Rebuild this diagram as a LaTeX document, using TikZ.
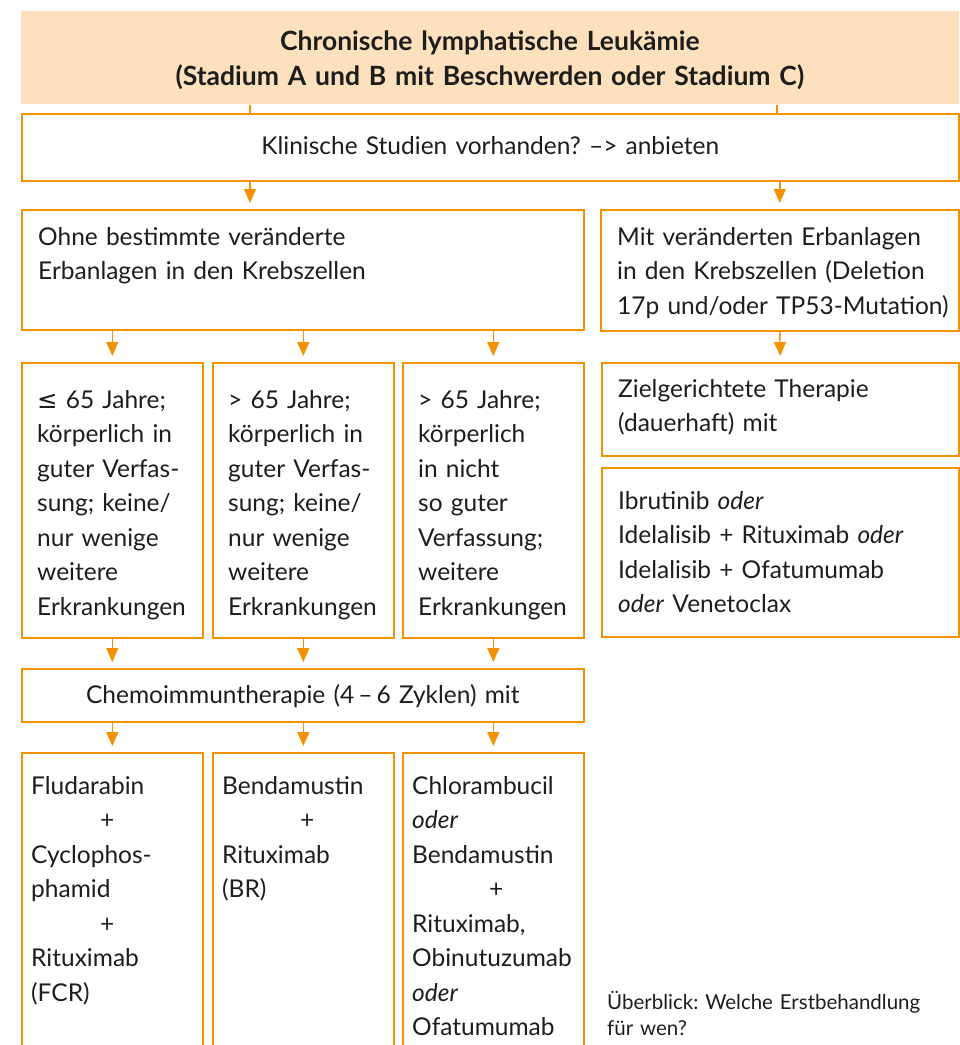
\documentclass[tikz,border=0pt]{standalone}
\usepackage{fontspec}
\setmainfont{Lato}
\newfontfamily\symfont{DejaVu Sans}
\usepackage{tikz}
\usetikzlibrary{arrows.meta,positioning}
\definecolor{ora}{HTML}{F39200}
\definecolor{peach}{HTML}{FDE0BE}
\definecolor{ink}{HTML}{1D1D1B}
\newcommand{\plusln}[1]{\hspace*{#1}+}
\frenchspacing

\begin{document}
\begin{tikzpicture}[x=1pt,y=-1pt,
  box/.style={draw=ora,line width=1.6pt,anchor=north west,inner sep=0pt},
  txt/.style={anchor=base west,align=left,inner sep=0pt,text=ink,text width=600pt,
              font=\fontsize{24.5}{34.5}\selectfont},
  arr/.style={-{Triangle[width=12pt,length=14pt]},draw=ora,line width=1.4pt,
              shorten >=6pt},
  link/.style={draw=ora,line width=1.4pt}
]
\useasboundingbox (0,0) rectangle (960,1045);
\clip (0,0) rectangle (960,1045);

\node[box,draw=none,fill=peach,minimum width=938pt,minimum height=93pt] (head) at (20,10) {};
\node[box,minimum width=937pt,minimum height=67pt] (stud) at (21,113) {};
\node[box,minimum width=562pt,minimum height=120pt] (ohne) at (21,209) {};
\node[box,minimum width=358pt,minimum height=121pt] (mit) at (600,209) {};
\node[box,minimum width=181pt,minimum height=275pt] (age1) at (21,362) {};
\node[box,minimum width=181pt,minimum height=275pt] (age2) at (212,362) {};
\node[box,minimum width=181pt,minimum height=275pt] (age3) at (402,362) {};
\node[box,minimum width=357pt,minimum height=93pt] (ziel) at (601,362) {};
\node[box,minimum width=357pt,minimum height=169pt] (wirk) at (601,467) {};
\node[box,minimum width=562pt,minimum height=53pt] (chemo) at (21,668) {};
\node[box,minimum width=181pt,minimum height=330pt] (med1) at (21,752) {};
\node[box,minimum width=181pt,minimum height=330pt] (med2) at (212,752) {};
\node[box,minimum width=181pt,minimum height=330pt] (med3) at (402,752) {};

\node[txt,anchor=base,align=center,text width=900pt,
      font=\fontsize{26.5}{35.5}\selectfont\bfseries] (headtxt)
  at ([shift={(0,40)}]head.north)
  {Chronische lymphatische Leukämie\\(Stadium A und B mit Beschwerden oder Stadium C)};
\node[txt,anchor=base,align=center,text width=900pt] (studtxt) at ([shift={(0,41)}]stud.north)
  {Klinische Studien vorhanden? –> anbieten};
\node[txt] (ohnetxt) at ([shift={(17,36)}]ohne.north west)
  {Ohne bestimmte veränderte\\Erbanlagen in den Krebszellen};
\node[txt] (mittxt) at ([shift={(17,36)}]mit.north west)
  {Mit veränderten Erbanlagen\\in den Krebszellen (Deletion\\17p und/oder TP53-Mutation)};
\node[txt] (age1txt) at ([shift={(16,46)}]age1.north west)
  {{\symfont ≤} 65 Jahre;\\körperlich in\\guter Verfas-\\sung; keine/\\nur wenige\\weitere\\Erkrankungen};
\node[txt] (age2txt) at ([shift={(16,46)}]age2.north west)
  {> 65 Jahre;\\körperlich in\\guter Verfas-\\sung; keine/\\nur wenige\\weitere\\Erkrankungen};
\node[txt] (age3txt) at ([shift={(16,46)}]age3.north west)
  {> 65 Jahre;\\körperlich\\in nicht\\so guter\\Verfassung;\\weitere\\Erkrankungen};
\node[txt] (zieltxt) at ([shift={(17,35)}]ziel.north west)
  {Zielgerichtete Therapie\\(dauerhaft) mit};
\node[txt] (wirktxt) at ([shift={(17,42)}]wirk.north west)
  {Ibrutinib \emph{oder}\\Idelalisib + Rituximab \emph{oder}\\Idelalisib + Ofatumumab\\\emph{oder} Venetoclax};
\node[txt,anchor=base,align=center,text width=560pt] (chemotxt) at ([shift={(0,35)}]chemo.north)
  {Chemoimmuntherapie (4\,–\,6 Zyklen) mit};
\node[txt] (med1txt) at ([shift={(10,42)}]med1.north west)
  {Fludarabin\\\plusln{69pt}\\Cyclophos-\\phamid\\\plusln{69pt}\\Rituximab\\(FCR)};
\node[txt] (med2txt) at ([shift={(10,42)}]med2.north west)
  {Bendamustin\\\plusln{78pt}\\Rituximab\\(BR)};
\node[txt] (med3txt) at ([shift={(10,42)}]med3.north west)
  {Chlorambucil\\\emph{oder}\\Bendamustin\\\plusln{77pt}\\Rituximab,\\Obinutuzumab\\\emph{oder}\\Ofatumumab};
\node[txt,font=\fontsize{20.5}{26}\selectfont] (caption) at (607,1009)
  {Überblick: Welche Erstbehandlung\\für wen?};

\draw[link] ([xshift=230pt]head.south west) -- ([xshift=229pt]stud.north west);
\draw[link] ([xshift=757pt]head.south west) -- ([xshift=756pt]stud.north west);
\draw[arr] ([xshift=229pt]stud.south west) -- ([xshift=229pt]ohne.north west);
\draw[arr] (stud.south -| mit.north) -- (mit.north);
\draw[arr] (mit.south) -- (ziel.north);
\foreach \i in {1,2,3}{
  \draw[arr] (ohne.south -| age\i.north) -- (age\i.north);
  \draw[arr] (age\i.south) -- (chemo.north -| age\i.south);
  \draw[arr] (chemo.south -| med\i.north) -- (med\i.north);
}
\end{tikzpicture}
\end{document}
